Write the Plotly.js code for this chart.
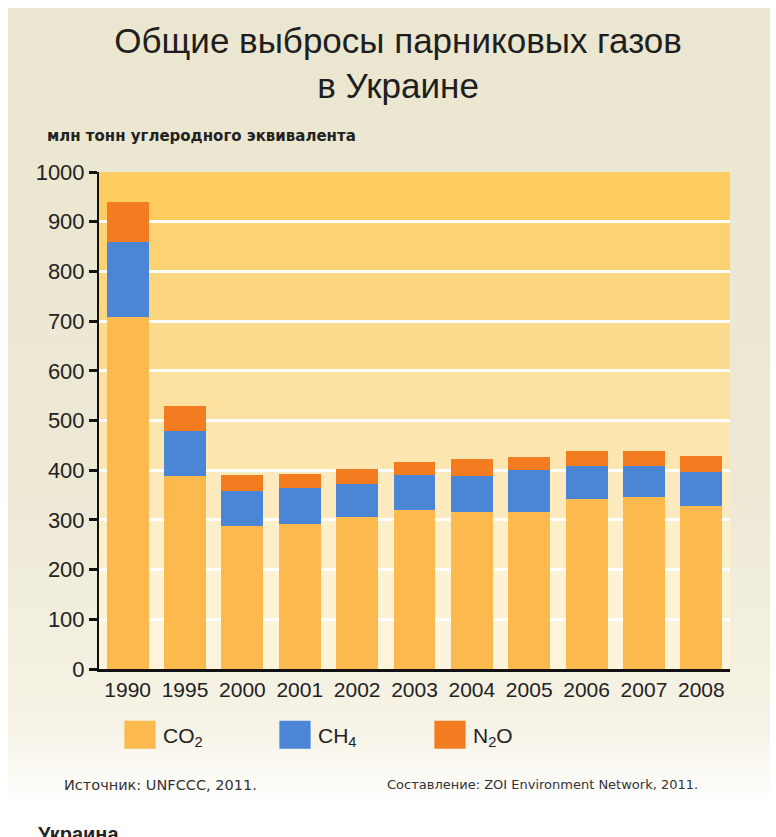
<!DOCTYPE html>
<html>
<head>
<meta charset="utf-8">
<script src="https://cdn.plot.ly/plotly-3.0.1.min.js"></script>
<style>
  html, body { margin: 0; padding: 0; background: #ffffff; }
  #panel { position: absolute; left: 8px; top: 8px; width: 762px; height: 800px;
           background: linear-gradient(#ebe6cf 0%, #eee9d5 60%, #f6f3e6 90%, #ffffff 100%); }
  #chart { position: absolute; left: 0; top: 0; width: 776px; height: 837px; }
  #chart .legend .legendpoints path { transform-box: fill-box; transform-origin: center; transform: translate(17px, 0) scale(2.6, 2.35); }
</style>
</head>
<body>
<div id="panel"></div>
<div id="chart"></div>
<script>
// ---- data ----
const years = ["1990", "1995", "2000", "2001", "2002", "2003", "2004", "2005", "2006", "2007", "2008"];
const co2  = [708, 388, 288, 292, 305, 320, 315, 315, 342, 347, 327];
const ch4  = [151,  90,  70,  73,  68,  70,  74,  86,  67,  62,  70];
const n2o  = [ 81,  52,  32,  27,  29,  27,  33,  26,  30,  30,  31];
const yTicks = [0, 100, 200, 300, 400, 500, 600, 700, 800, 900, 1000];
const seriesNames = ["CO<sub>2</sub>", "CH<sub>4</sub>", "N<sub>2</sub>O"];

const chartTitle = "Общие выбросы парниковых газов<br>в Украине";
const unitLabel = "млн тонн углеродного эквивалента";
const sourceText = "Источник: UNFCCC, 2011.";
const creditText = "Составление: ZOI Environment Network, 2011.";
const footerText = "Украина";

// ---- styles ----
const colors = ["#fcb94e", "#4a85d6", "#f47c20"];
const bandColors = ["#fef4dc", "#fef2d5", "#feefcb", "#fdebbf", "#fde6b0", "#fce1a0", "#fcdb8f", "#fcd780", "#fdd273", "#fdcd62"];
const fontMain = "Liberation Sans, Arial, sans-serif";
const fontWide = "DejaVu Sans, Verdana, sans-serif";

const values = [co2, ch4, n2o];
const traces = values.map((v, i) => ({
  type: "bar",
  x: years,
  y: v,
  name: seriesNames[i],
  marker: { color: colors[i], line: { width: 0 } },
  hoverinfo: "x+y+name"
}));

const shapes = [];
for (let i = 0; i < yTicks.length - 1; i++) {
  shapes.push({
    type: "rect", layer: "below", xref: "paper", yref: "y",
    x0: 0, x1: 1, y0: yTicks[i], y1: yTicks[i + 1],
    fillcolor: bandColors[i], line: { width: 0 }
  });
}

const layout = {
  width: 776, height: 837,
  paper_bgcolor: "rgba(0,0,0,0)",
  plot_bgcolor: "rgba(0,0,0,0)",
  margin: { l: 99, r: 46, t: 172, b: 168 },
  barmode: "stack",
  bargap: 0.27,
  showlegend: true,
  title: {
    text: chartTitle,
    font: { family: fontMain, size: 35, color: "#1e1e1e" },
    x: 0.513, xanchor: "center",
    y: 0.937, yanchor: "middle", yref: "container"
  },
  xaxis: {
    type: "category",
    showgrid: false,
    showline: true, linecolor: "#111111", linewidth: 3,
    ticks: "", tickfont: { family: fontMain, size: 21, color: "#222222" },
    fixedrange: true
  },
  yaxis: {
    range: [0, 1000],
    tickvals: yTicks,
    ticktext: yTicks.map(String),
    showgrid: true, gridcolor: "#ffffff", gridwidth: 3,
    zeroline: false,
    showline: true, linecolor: "#111111", linewidth: 2,
    ticks: "outside", ticklen: 8, tickwidth: 3, tickcolor: "#111111",
    tickfont: { family: fontMain, size: 22, color: "#222222" },
    fixedrange: true
  },
  legend: {
    orientation: "h",
    x: 0.038, xanchor: "left",
    y: -0.133, yanchor: "middle",
    font: { family: fontMain, size: 21, color: "#222222" },
    entrywidth: 110, entrywidthmode: "pixels",
    itemwidth: 30,
    bgcolor: "rgba(0,0,0,0)",
    traceorder: "normal"
  },
  shapes: shapes,
  annotations: [
    { text: "<b>" + unitLabel + "</b>", xref: "paper", yref: "paper", x: -0.086, y: 1.072, xanchor: "left", yanchor: "middle",
      showarrow: false, font: { family: fontWide, size: 15, color: "#222222" } },
    { text: sourceText, xref: "paper", yref: "paper", x: -0.059, y: -0.233, xanchor: "left", yanchor: "middle",
      showarrow: false, font: { family: fontWide, size: 14.5, color: "#333333" } },
    { text: creditText, xref: "paper", yref: "paper", x: 0.453, y: -0.233, xanchor: "left", yanchor: "middle",
      showarrow: false, font: { family: fontWide, size: 13, color: "#333333" } },
    { text: "<b>" + footerText + "</b>", xref: "paper", yref: "paper", x: -0.1, y: -0.306, xanchor: "left", yanchor: "top",
      showarrow: false, font: { family: fontMain, size: 20, color: "#222222" } }
  ]
};

Plotly.newPlot("chart", traces, layout, { displayModeBar: false });
</script>
</body>
</html>
